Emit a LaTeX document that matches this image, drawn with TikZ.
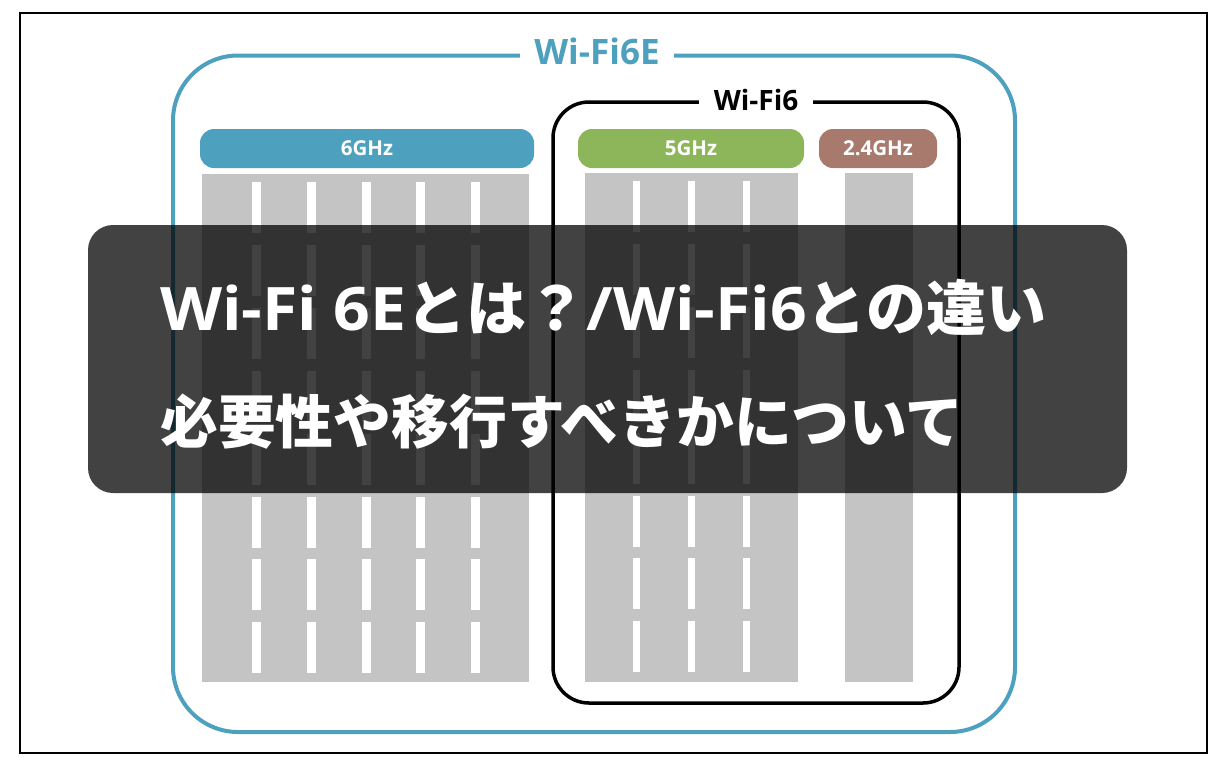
\documentclass[tikz,border=0pt]{standalone}
\usepackage{fontspec}
\newfontfamily\lat{Open Sans}
\newfontfamily\latw{Open Sans}[FakeStretch=1.07]
\newfontfamily\jp{Noto Sans CJK JP}
\definecolor{wblue}{RGB}{77,160,190}
\definecolor{wgreen}{RGB}{141,181,90}
\definecolor{wbrown}{RGB}{168,122,110}
\definecolor{wgray}{RGB}{196,196,196}
\tikzset{
  pill/.style={rounded corners=14pt, minimum height=39pt, inner sep=0pt, text=white, font=\lat\bfseries\fontsize{20.5}{20.5}\selectfont},
  barbox/.style={fill=wgray},
  dashbar/.style={fill=white},
  titlelbl/.style={fill=white, inner xsep=14pt, inner ysep=2pt, font=\lat\bfseries\fontsize{35}{35}\selectfont},
}
\begin{document}
\begin{tikzpicture}[x=1pt,y=-1pt]
\useasboundingbox (0,0) rectangle (1225,761);
\fill[white] (0,0) rectangle (1225,761);
\draw[line width=2pt] (20,13) rectangle (1207,753);
% gray bars
\fill[barbox] (202,174) rectangle (529,682);
\fill[barbox] (585,173) rectangle (798,682);
\fill[barbox] (845,173) rectangle (913,682);
% white dashes
\foreach \k in {0,...,7}{
  \foreach \cx in {256,311,366,420,475}{
    \fill[dashbar] (\cx-4.5,182+\k*62.9) rectangle (\cx+4.5,233+\k*62.9);
  }
  \foreach \cx in {636,691,746}{
    \fill[dashbar] (\cx-3.5,181+\k*62.9) rectangle (\cx+3.5,232+\k*62.9);
  }
}
% pills
\node[pill, fill=wblue, minimum width=334pt] (p6) at (367,148.5) {6GHz};
\node[pill, fill=wgreen, minimum width=226pt] (p5) at (691,148.5) {5GHz};
\node[pill, fill=wbrown, minimum width=118pt] (p24) at (878,148.5) {2.4GHz};
% Wi-Fi6 box
\draw[line width=3.5pt, rounded corners=36pt] (553,102) rectangle (959,703);
\node[titlelbl, inner xsep=15pt, font=\lat\bfseries\fontsize{28}{28}\selectfont] (w6) at (756,100) {Wi-Fi6};
% Wi-Fi6E box
\draw[line width=4pt, wblue, rounded corners=65pt] (173,55.5) rectangle (1015,732);
\node[titlelbl, text=wblue] (w6e) at (597,51) {Wi-Fi6E};
% overlay
\fill[black, opacity=0.74, rounded corners=25pt] (88,225) rectangle (1127,493);
\node[anchor=base west, inner sep=0pt, text=white] (t1) at (160,330)
  {\fontsize{60}{60}\selectfont{\latw\bfseries Wi-Fi 6E}{\jp\bfseries とは？}{\latw\bfseries /Wi-Fi6}{\jp\bfseries との違い}};
\node[anchor=base west, inner sep=0pt, text=white] (t2) at (160,443)
  {\jp\bfseries\fontsize{57.8}{57.8}\selectfont 必要性や移行すべきかについて};
\end{tikzpicture}
\end{document}
